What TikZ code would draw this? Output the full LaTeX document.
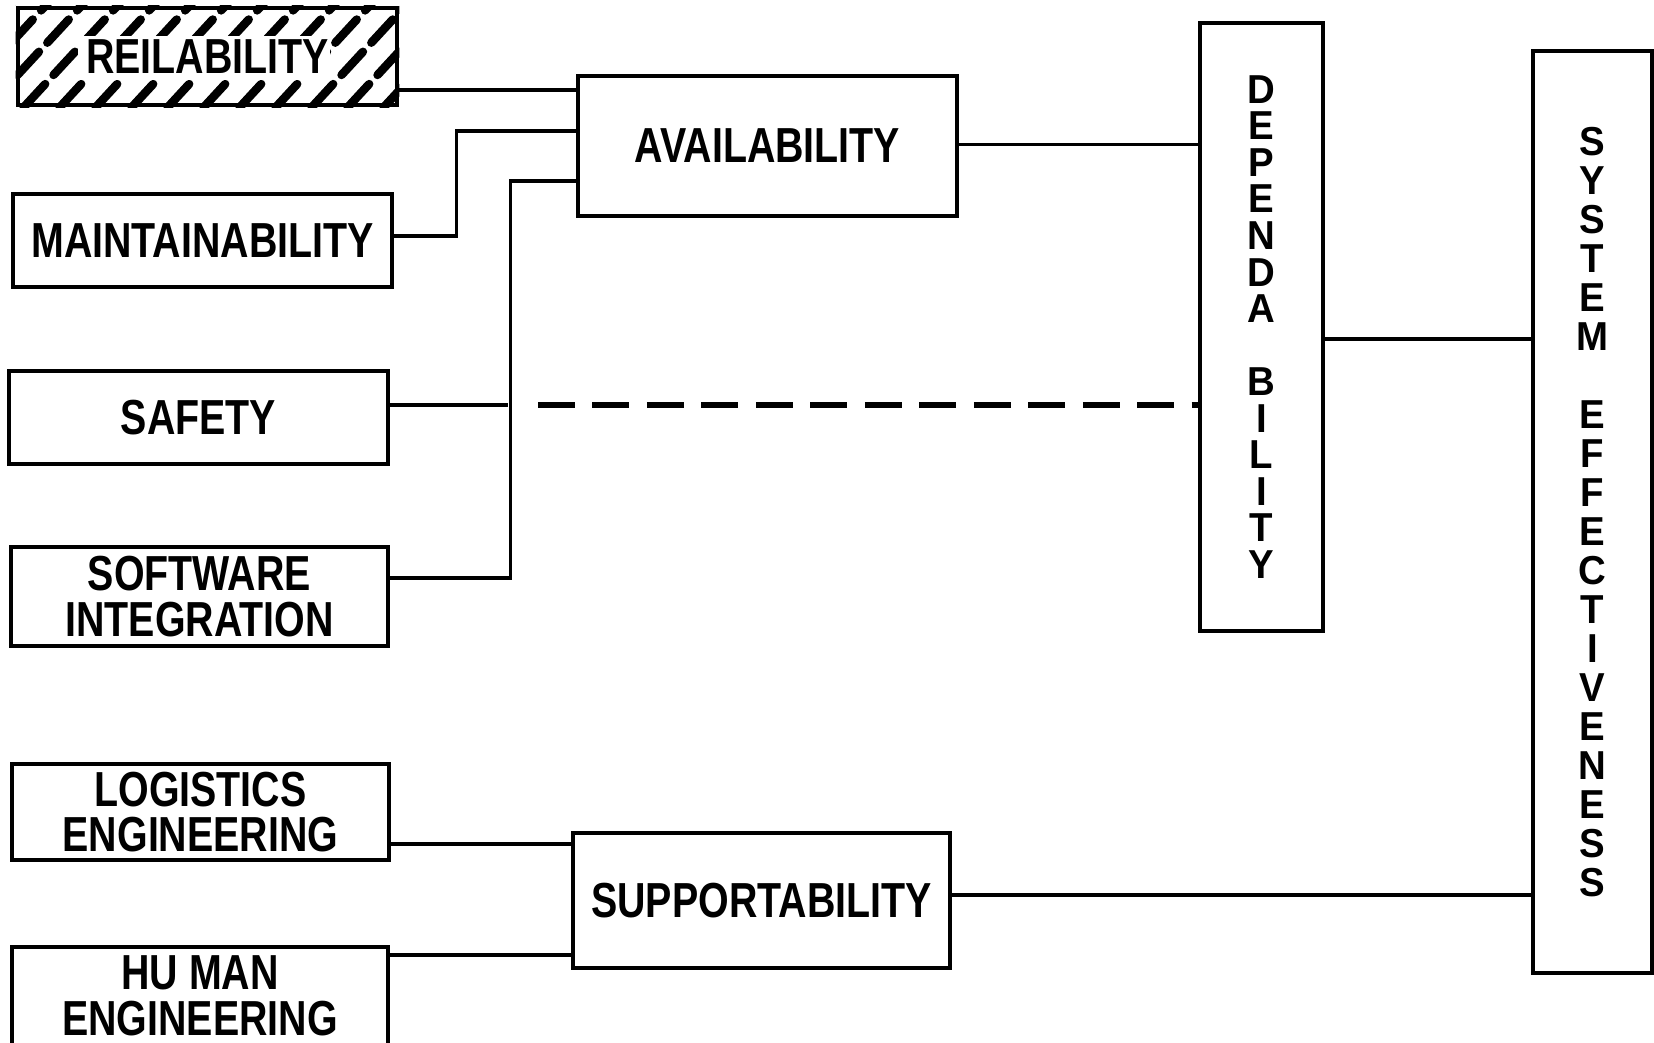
\documentclass[tikz,border=0pt]{standalone}
\usepackage{fontspec}
\newfontfamily\labelfont[FakeStretch=0.8]{Liberation Sans}
\newfontfamily\stackfont[FakeStretch=0.95]{Liberation Sans}
\usetikzlibrary{positioning, calc, backgrounds}

\begin{document}
\begin{tikzpicture}[
    block/.style={
        rectangle,
        draw,
        line width=1.3pt,
        inner sep=0pt,
        align=center,
        font=\labelfont\bfseries\fontsize{14}{13}\selectfont
    },
    tallblock/.style={
        block,
        font=\stackfont\bfseries\fontsize{11.5}{10.4}\selectfont
    },
    link/.style={line width=1pt},
    safelink/.style={line width=1.8pt, dash pattern=on 10.5pt off 5pt},
    hatch/.style={line width=2.4pt, dash pattern=on 9pt off 3.5pt, line cap=round}
]
    \useasboundingbox (0,0) rectangle (16.54,-10.42);

    % left column
    \node[block, minimum width=3.79cm, minimum height=0.97cm] (rel) at (2.075,-0.565) {REILABILITY};
    \node[block, minimum width=3.79cm, minimum height=0.93cm] (maint) at (2.025,-2.405) {MAINTAINABILITY};
    \node[block, minimum width=3.79cm, minimum height=0.93cm] (safety) at (1.985,-4.175) {SAFETY};
    \node[block, minimum width=3.77cm, minimum height=0.99cm] (softint) at (1.995,-5.965) {SOFTWARE\\INTEGRATION};
    \node[block, minimum width=3.77cm, minimum height=0.96cm] (logeng) at (2.005,-8.12) {LOGISTICS\\ENGINEERING};
    \node[block, minimum width=3.76cm, minimum height=0.98cm] (humeng) at (2.0,-9.96) {HU MAN\\ENGINEERING};

    % middle column
    \node[block, minimum width=3.79cm, minimum height=1.40cm] (avail) at (7.675,-1.46) {AVAILABILITY};
    \node[block, minimum width=3.77cm, minimum height=1.35cm] (support) at (7.615,-9.005) {SUPPORTABILITY};

    % right columns
    \node[tallblock, minimum width=1.23cm, minimum height=6.08cm] (depend) at (12.615,-3.27)
        {D\\E\\P\\E\\N\\D\\A\\[10.4pt]B\\I\\L\\I\\T\\Y};
    \node[tallblock, font=\stackfont\bfseries\fontsize{11.5}{11.1}\selectfont,
        minimum width=1.19cm, minimum height=9.22cm] (syseff) at (15.925,-5.12)
        {S\\Y\\S\\T\\E\\M\\[11.1pt]E\\F\\F\\E\\C\\T\\I\\V\\E\\N\\E\\S\\S};

    % hatching behind the reliability label
    \begin{scope}[on background layer]
        \clip (rel.south west) rectangle (rel.north east);
        \foreach \x in {0,...,14}
            \draw[hatch] ($(rel.south west)+(\x*0.36-1.0,0)$) -- ++(1.2,1.3);
        \fill[white] (0.78,-0.36) rectangle (3.30,-0.80);
    \end{scope}

    % connectors
    \draw[link] (rel.east |- 0,-0.90) -- (avail.west |- 0,-0.90);
    \draw[link] (maint.east |- 0,-2.36) -- ++(0.62,0) |- (avail.west |- 0,-1.31);
    \draw[link] (softint.east |- 0,-5.78) -- ++(1.20,0) |- (avail.west |- 0,-1.81);
    \draw[link] (safety.east |- 0,-4.05) -- (5.08,-4.05) coordinate (safecross);
    \draw[safelink] ([xshift=0.3cm]safecross) -- (depend.west |- safecross);
    \draw[link] (avail.east |- 0,-1.445) -- (depend.west |- 0,-1.445);
    \draw[link] (depend.east |- 0,-3.39) -- (syseff.west |- 0,-3.39);
    \draw[link] (logeng.east |- 0,-8.44) -- (support.west |- 0,-8.44);
    \draw[link] (humeng.east |- 0,-9.55) -- (support.west |- 0,-9.55);
    \draw[link] (support.east |- 0,-8.95) -- (syseff.west |- 0,-8.95);
\end{tikzpicture}
\end{document}
